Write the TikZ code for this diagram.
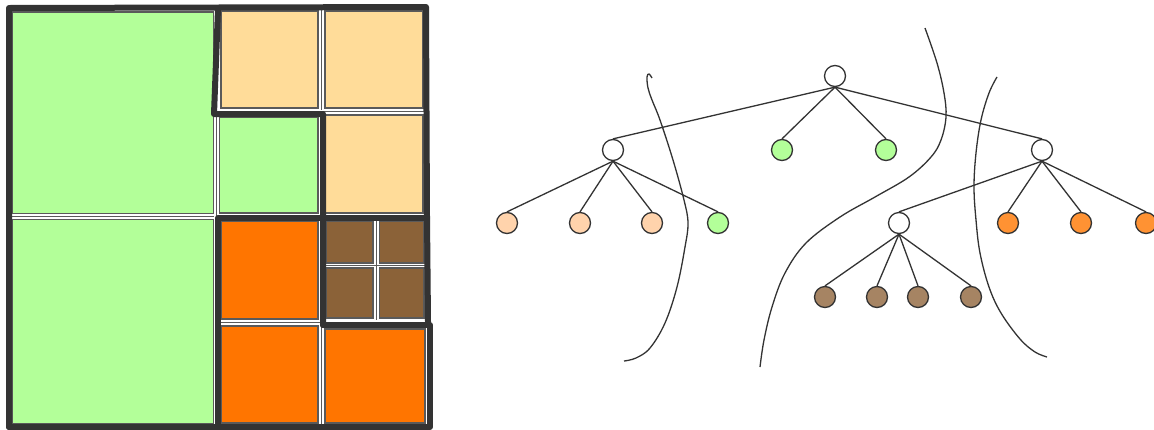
\documentclass[tikz,border=0pt]{standalone}
\usepackage{xcolor}
\definecolor{qgreen}{RGB}{179,255,153}
\definecolor{qpeach}{RGB}{255,220,153}
\definecolor{qorange}{RGB}{255,117,0}
\definecolor{qbrown}{RGB}{139,98,56}
\definecolor{npeach}{RGB}{255,211,172}
\definecolor{norange}{RGB}{255,146,51}
\definecolor{nbrown}{RGB}{166,132,99}
\definecolor{ink}{RGB}{51,51,51}
\definecolor{cellline}{RGB}{90,90,90}
\tikzset{
  cell/.style={draw=cellline, line width=1.2pt},
  gapline/.style={draw=cellline, line width=1pt},
  part/.style={draw=ink, line width=6pt, line cap=round, line join=round},
  tnode/.style={circle, draw=ink, line width=1.3pt, minimum size=21pt, inner sep=0pt, fill=white},
  edge/.style={draw=ink, line width=1.3pt},
  sepcurve/.style={draw=ink, line width=1.3pt},
}
\begin{document}
\begin{tikzpicture}[x=1pt,y=-1pt]
\useasboundingbox (0,0) rectangle (1154,429);
\clip (0,0) rectangle (1154,429);
\fill[white] (0,0) rectangle (1154,429);
% ---------- quadtree cells ----------
\path[cell, fill=qgreen] (12,12) rectangle (213.5,213.5);
\path[cell, fill=qgreen] (12,219.5) rectangle (213.5,424);
\path[cell, fill=qpeach] (221,11) rectangle (318,108);
\path[cell, fill=qpeach] (325,11) rectangle (423,108);
\path[cell, fill=qgreen] (219.5,117) rectangle (318,213);
\path[cell, fill=qpeach] (325,115) rectangle (423,213);
\path[cell, fill=qorange] (221,221) rectangle (318,319);
\path[cell, fill=qorange] (221,326) rectangle (318,423);
\path[cell, fill=qorange] (325,329) rectangle (425,423);
\path[cell, fill=qbrown] (326,221) rectangle (373,263);
\path[cell, fill=qbrown] (379.5,221) rectangle (424,263);
\path[cell, fill=qbrown] (326,268) rectangle (373,318);
\path[cell, fill=qbrown] (379.5,268) rectangle (424,318);
% gap centre lines
\draw[gapline] (12,216.5) -- (214,216.5);
\draw[gapline] (216.5,114) -- (216.5,216);
\draw[gapline] (321.5,10) -- (321.5,110);
\draw[gapline] (323,111.5) -- (425,111.5);
\draw[gapline] (376.2,220) -- (376.2,320);
\draw[gapline] (325,265.5) -- (425,265.5);
\draw[gapline] (220,322.5) -- (320,322.5);
\draw[gapline] (321.5,325) -- (321.5,425);
% ---------- thick partition lines ----------
\draw[part] (9,427) -- (9,8) -- (426,7) -- (427,217) -- (428,322);
\draw[part] (9,427) -- (430,427) -- (430,325) -- (323,325);
\draw[part] (218,9) -- (214,114) -- (323,114) -- (323,325);
\draw[part] (218,427) -- (218,218) -- (427,218);
% ---------- tree ----------
\node[tnode] (r) at (835,76) {};
\node[tnode] (a) at (613,150) {};
\node[tnode, fill=qgreen] (b) at (782,150) {};
\node[tnode, fill=qgreen] (c) at (886,150) {};
\node[tnode] (d) at (1042,150) {};
\node[tnode, fill=npeach] (a1) at (507,223) {};
\node[tnode, fill=npeach] (a2) at (580,223) {};
\node[tnode, fill=npeach] (a3) at (652,223) {};
\node[tnode, fill=qgreen] (a4) at (718,223) {};
\node[tnode] (d1) at (899,223) {};
\node[tnode, fill=norange] (d2) at (1008,223) {};
\node[tnode, fill=norange] (d3) at (1081,223) {};
\node[tnode, fill=norange] (d4) at (1146,223) {};
\node[tnode, fill=nbrown] (e1) at (825,297) {};
\node[tnode, fill=nbrown] (e2) at (877,297) {};
\node[tnode, fill=nbrown] (e3) at (918,297) {};
\node[tnode, fill=nbrown] (e4) at (971,297) {};
\foreach \p/\c in {r/a, r/b, r/c, r/d, a/a1, a/a2, a/a3, a/a4, d/d1, d/d2, d/d3, d/d4, d1/e1, d1/e2, d1/e3, d1/e4}
  \draw[edge] (\p.south) -- (\c.north);
% ---------- separating curves ----------
\draw[sepcurve] plot[smooth, tension=0.6] coordinates {(652,78) (649,74) (647,77) (648,88) (652,100) (660,120) (673,160) (684,200) (688,223) (685,247) (677,287) (665,323) (650,348) (636,358) (624,361)};
\draw[sepcurve] plot[smooth, tension=0.6] coordinates {(925,28) (937,63) (944,93) (946,117) (941,140) (931,157) (909,177) (875,197) (840,217) (806,243) (785,273) (772,307) (764,340) (760,367)};
\draw[sepcurve] plot[smooth, tension=0.6] coordinates {(997,77) (989,93) (981,120) (976,153) (974,187) (976,220) (980,253) (989,287) (1001,313) (1020,339) (1035,352) (1047,357)};
\end{tikzpicture}
\end{document}
